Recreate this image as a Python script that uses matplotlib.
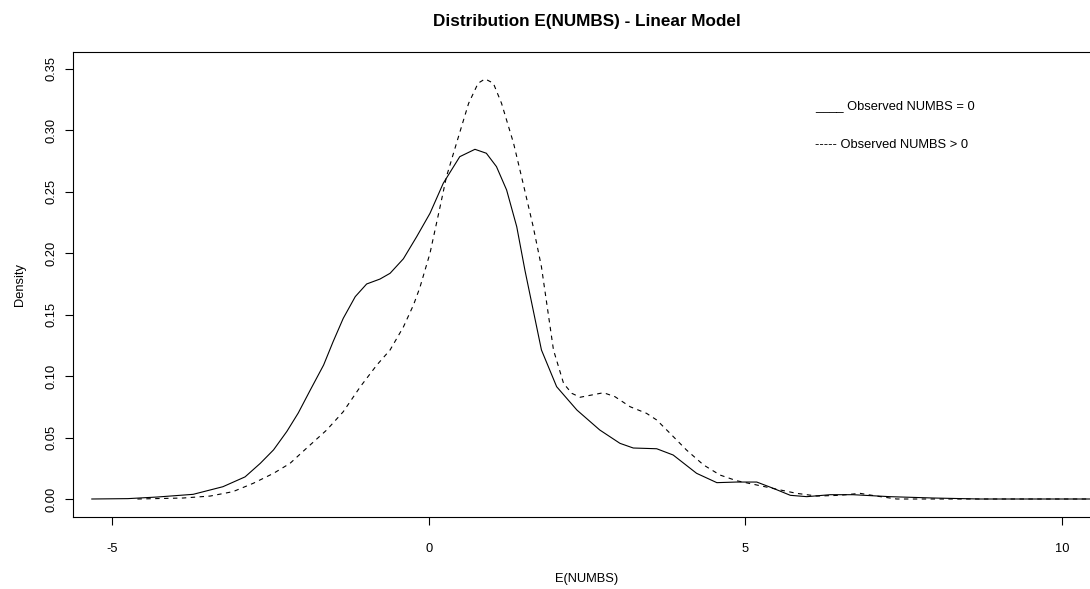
import matplotlib
matplotlib.use("Agg")
import matplotlib.pyplot as plt
import numpy as np

plt.rcParams['font.family'] = ['Liberation Sans', 'DejaVu Sans']

# Observed NUMBS = 0 (solid)
x_zero = [-5.32, -4.75, -4.29, -3.72, -3.25, -2.90, -2.66, -2.45, -2.24, -2.06,
          -1.87, -1.66, -1.51, -1.35, -1.16, -0.98, -0.77, -0.61, -0.40, -0.19,
          0.02, 0.23, 0.49, 0.73, 0.91, 1.07, 1.23, 1.39, 1.52, 1.78,
          2.02, 2.34, 2.70, 3.02, 3.23, 3.60, 3.86, 4.23, 4.55, 4.86,
          5.18, 5.44, 5.71, 5.97, 6.34, 6.70, 7.28, 7.97, 8.70, 10.44]
y_zero = [0.0, 0.0003, 0.0016, 0.0038, 0.010, 0.018, 0.029, 0.040, 0.055, 0.070,
          0.0887, 0.109, 0.128, 0.147, 0.1647, 0.175, 0.179, 0.1837, 0.1955, 0.2135,
          0.2325, 0.257, 0.2786, 0.2846, 0.2814, 0.2705, 0.2515, 0.2216, 0.186, 0.1213,
          0.0914, 0.0724, 0.0562, 0.0453, 0.0415, 0.0409, 0.0358, 0.0209, 0.0133, 0.0138,
          0.0138, 0.0087, 0.003, 0.0019, 0.0035, 0.0035, 0.0019, 0.0008, 0.0, 0.0]

# Observed NUMBS > 0 (dashed)
x_pos = [-4.60, -3.88, -3.45, -3.09, -2.77, -2.45, -2.19, -1.93, -1.61, -1.35,
         -1.08, -0.82, -0.61, -0.40, -0.24, -0.14, 0.02, 0.18, 0.28, 0.47,
         0.63, 0.78, 0.89, 1.02, 1.15, 1.34, 1.49, 1.65, 1.78, 1.97,
         2.13, 2.26, 2.39, 2.55, 2.76, 2.94, 3.18, 3.44, 3.60, 3.81,
         4.07, 4.34, 4.60, 4.86, 5.18, 5.50, 5.81, 6.13, 6.49, 6.81,
         7.07, 7.39, 10.65]
y_pos = [0.0, 0.0008, 0.0024, 0.006, 0.0128, 0.0209, 0.029, 0.0413, 0.0562, 0.071,
         0.0914, 0.109, 0.1213, 0.140, 0.158, 0.172, 0.200, 0.238, 0.2623, 0.2949,
         0.322, 0.3384, 0.3419, 0.3384, 0.322, 0.2895, 0.257, 0.2216, 0.189, 0.1213,
         0.094, 0.086, 0.0828, 0.0844, 0.0865, 0.0833, 0.0751, 0.0697, 0.0643, 0.0535,
         0.0399, 0.0277, 0.0195, 0.0149, 0.0114, 0.0079, 0.0046, 0.0024, 0.003, 0.0046,
         0.0024, 0.0, 0.0]

x_ticks = [-5, 0, 5, 10]
y_ticks = [0.00, 0.05, 0.10, 0.15, 0.20, 0.25, 0.30, 0.35]
y_ticklabels = ["0.00", "0.05", "0.10", "0.15", "0.20", "0.25", "0.30", "0.35"]
legend_labels = ["____ Observed NUMBS = 0", "----- Observed NUMBS > 0"]

W, H = 1090, 589
fig = plt.figure(figsize=(W / 100, H / 100), dpi=100)
left, right, top, bottom = 73, 1100, 52, 517
ax = fig.add_axes([left / W, 1 - bottom / H, (right - left) / W, (bottom - top) / H])

ax.plot(x_zero, y_zero, color='black', lw=0.8)
ax.plot(x_pos, y_pos, color='black', lw=0.8, dashes=(4, 4))

ax.set_xlim(-5.617, 10.6)
ax.set_ylim(-0.01465, 0.3638)

fs = 9.3
ax.set_xticks(x_ticks)
ax.set_xticklabels([str(t) for t in x_ticks])
ax.set_yticks(y_ticks)
ax.set_yticklabels(y_ticklabels, rotation=90, va='center')
ax.tick_params(axis='both', direction='out', length=6, width=0.8, labelsize=fs, colors='black')
ax.tick_params(axis='x', pad=13)
ax.tick_params(axis='y', pad=5.5)

for s in ['left', 'bottom', 'top']:
    ax.spines[s].set_linewidth(0.8)
    ax.spines[s].set_color('black')
ax.spines['right'].set_visible(False)

ax.set_xlabel("E(NUMBS)", fontsize=fs, labelpad=13)
ax.set_ylabel("Density", fontsize=fs, labelpad=14)
ax.set_title("Distribution E(NUMBS) - Linear Model", fontsize=12.3, fontweight='bold', pad=19)

ax.text(6.10, 0.3199, legend_labels[0], fontsize=fs, va='center', ha='left')
ax.text(6.10, 0.2881, legend_labels[1], fontsize=fs, va='center', ha='left')

fig.savefig("out.png", dpi=100)
